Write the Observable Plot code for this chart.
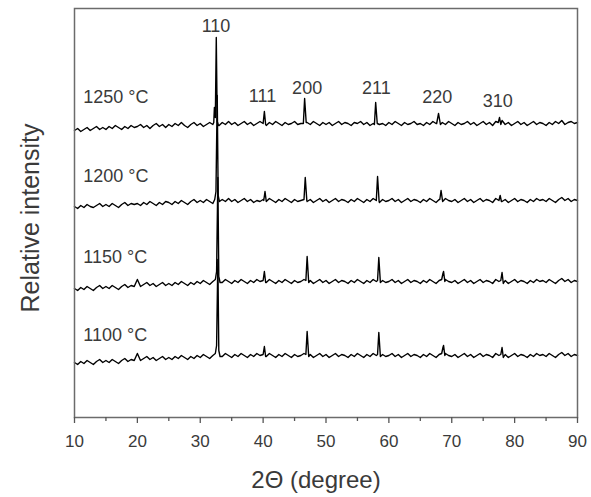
<!DOCTYPE html>
<html>
<head>
<meta charset="utf-8">
<script src="https://cdn.jsdelivr.net/npm/d3@7"></script>
<script src="https://cdn.jsdelivr.net/npm/@observablehq/plot@0.6"></script>
<style>
  html, body { margin: 0; padding: 0; background: #fff; }
</style>
</head>
<body>
<div id="chart"></div>
<script>
// ---- Data (relative intensity, arbitrary units, curves already offset) ----
const temperatures = ["1250 °C", "1200 °C", "1150 °C", "1100 °C"];
const angleStart = 10, angleStep = 0.5; // 2θ sampling grid 10..90

const base1250 = [
  287,289,286,288,290,287,289,291,288,290,
  288,291,289,292,290,288,291,289,292,290,
  291,293,290,292,289,292,294,291,293,290,
  293,291,294,292,295,292,290,293,295,292,
  294,291,293,295,293,294,292,295,293,296,
  293,295,292,294,296,293,295,292,294,296,
  294,292,295,293,296,294,292,295,293,294,
  296,293,294,292,295,293,296,294,292,295,
  293,295,292,294,296,293,295,294,292,295,
  294,296,293,295,292,294,296,293,294,292,
  295,293,296,294,292,295,293,294,296,293,
  294,292,295,293,296,294,292,295,293,296,
  294,292,295,293,294,296,293,295,292,294,
  296,293,295,292,296,294,297,293,295,292,
  294,296,293,295,292,294,296,293,295,294,
  292,295,293,296,294,297,293,295,296,294,
  295
];
const base1200 = [
  211,209,212,210,213,211,210,212,214,211,
  213,211,214,212,210,213,215,212,214,213,
  214,212,215,213,216,214,212,215,213,216,
  215,213,216,214,217,215,213,216,218,215,
  217,215,218,216,214,217,215,218,216,219,
  216,218,215,217,219,216,218,215,217,216,
  218,216,219,217,215,218,216,219,217,215,
  218,216,217,219,216,218,215,217,219,216,
  218,215,217,219,216,218,217,215,218,216,
  219,217,215,218,216,219,217,215,218,216,
  217,219,216,218,215,217,219,216,218,217,
  215,218,216,219,217,215,218,216,219,217,
  216,218,215,217,219,216,218,215,217,219,
  216,218,217,215,219,217,216,218,215,217,
  219,216,218,217,215,218,216,219,217,218,
  216,219,217,215,218,220,217,219,216,218,
  217
];
const base1150 = [
  129,127,130,128,131,129,127,130,132,129,
  131,129,132,130,128,131,133,130,132,131,
  138,131,133,135,132,134,131,133,135,132,
  134,132,135,133,136,134,132,135,133,136,
  134,137,135,133,136,134,137,135,138,136,
  134,137,135,138,136,134,137,135,138,136,
  137,135,138,136,134,137,135,138,136,134,
  137,135,136,138,135,137,134,136,138,135,
  137,134,136,138,135,137,136,134,137,135,
  138,136,134,137,135,138,136,134,137,135,
  136,138,135,137,134,136,138,135,137,136,
  134,137,135,138,136,134,137,135,138,136,
  135,137,134,136,138,135,137,134,136,138,
  135,137,136,134,138,136,135,137,134,136,
  138,135,137,136,134,137,135,138,136,137,
  135,138,136,134,137,139,136,138,135,137,
  136
];
const base1100 = [
  55,53,56,54,57,55,53,56,58,55,
  57,55,58,56,54,57,59,56,58,57,
  64,57,59,61,58,60,57,59,61,58,
  60,58,61,59,62,60,58,61,59,62,
  60,63,61,59,62,60,63,61,64,62,
  60,63,61,64,62,60,63,61,64,62,
  63,61,64,62,60,63,61,64,62,60,
  63,61,62,64,61,63,60,62,64,61,
  63,60,62,64,61,63,62,60,63,61,
  64,62,60,63,61,64,62,60,63,61,
  62,64,61,63,60,62,64,61,63,62,
  60,63,61,64,62,60,63,61,64,62,
  61,63,60,62,64,61,63,60,62,64,
  61,63,62,60,64,62,61,63,60,62,
  64,61,63,62,60,63,61,64,62,63,
  61,64,62,60,63,65,62,64,61,63,
  62
];

// Diffraction peaks: [2θ, intensity] points for each reflection
const peaks1250 = [
  [[32.15,295],[32.25,310],[32.4,300],[32.55,380],[32.7,296],[32.9,292]],
  [[40.0,294],[40.2,306],[40.4,293]],
  [[46.4,294],[46.6,319],[46.85,295]],
  [[57.7,293],[57.9,315],[58.15,294]],
  [[67.6,294],[67.9,304],[68.2,293]],
  [[77.4,295],[77.6,300],[77.8,293]]
];
const peaks1200 = [
  [[32.3,218],[32.5,226],[32.7,322],[32.85,222],[33.05,216]],
  [[40.1,217],[40.3,226],[40.5,216]],
  [[46.5,218],[46.7,240],[46.95,217]],
  [[58.0,217],[58.2,241],[58.45,216]],
  [[68.1,218],[68.3,227],[68.55,216]],
  [[77.5,217],[77.7,222],[77.9,216]]
];
const peaks1150 = [
  [[32.4,138],[32.6,146],[32.8,240],[32.95,141],[33.15,135]],
  [[40.0,137],[40.2,146],[40.4,135]],
  [[46.8,137],[47.0,161],[47.25,135]],
  [[58.2,137],[58.4,160],[58.65,135]],
  [[68.4,138],[68.6,144],[68.7,146],[68.9,136]],
  [[77.8,137],[78.0,145],[78.2,134]]
];
const peaks1100 = [
  [[32.4,64],[32.6,72],[32.8,158],[32.95,67],[33.15,61]],
  [[40.0,63],[40.2,71],[40.4,61]],
  [[46.8,63],[47.0,86],[47.25,61]],
  [[58.2,63],[58.4,85],[58.65,61]],
  [[68.4,64],[68.6,70],[68.7,72],[68.9,62]],
  [[77.8,63],[78.0,70],[78.2,60]]
];

// Annotations
const peakLabels = ["110", "111", "200", "211", "220", "310"];
const peakLabelX = [32.5, 39.9, 47.0, 58.0, 67.7, 77.3];
const peakLabelY = [391, 321, 329, 329, 320, 316];
const tempLabelX = 11.4;
const tempLabelY = [320, 241, 160, 82];

const xTicks = [10, 20, 30, 40, 50, 60, 70, 80, 90];
const xMinorTicks = [15, 25, 35, 45, 55, 65, 75, 85];

// ---- Build tables ----
function buildSeries(name, base, peaks) {
  const pts = [];
  base.forEach((v, i) => {
    const x = angleStart + i * angleStep;
    const inside = peaks.some(p => x >= p[0][0] && x <= p[p.length - 1][0]);
    if (!inside) pts.push({series: name, x, y: v});
  });
  peaks.forEach(p => p.forEach(([x, y]) => pts.push({series: name, x, y})));
  pts.sort((a, b) => a.x - b.x);
  return pts;
}
const data = [
  ...buildSeries(temperatures[0], base1250, peaks1250),
  ...buildSeries(temperatures[1], base1200, peaks1200),
  ...buildSeries(temperatures[2], base1150, peaks1150),
  ...buildSeries(temperatures[3], base1100, peaks1100)
];
const peakTable = peakLabels.map((t, i) => ({t, x: peakLabelX[i], y: peakLabelY[i]}));
const tempTable = temperatures.map((t, i) => ({t, x: tempLabelX, y: tempLabelY[i]}));

const textColor = "#3a3a3a";

const chart = Plot.plot({
  width: 591,
  height: 497,
  marginLeft: 74,
  marginRight: 14,
  marginTop: 8,
  marginBottom: 80,
  style: {fontFamily: "'Liberation Sans', Arial, sans-serif", background: "#fff", color: textColor},
  x: {domain: [10, 90], axis: null},
  y: {domain: [0, 409], axis: null},
  marks: [
    Plot.line(data, {x: "x", y: "y", z: "series", stroke: "#000", strokeWidth: 1.4}),
    Plot.frame({stroke: "#6b6b6b", strokeWidth: 1.5}),
    Plot.axisX({ticks: xTicks, tickSize: 6, tickPadding: 11, fontSize: 17, stroke: "#555", strokeWidth: 1.3, fill: textColor, label: null}),
    Plot.axisX({ticks: xMinorTicks, tickSize: 4, tickFormat: () => "", stroke: "#555", strokeWidth: 1.3, label: null}),
    Plot.text(peakTable, {x: "x", y: "y", text: "t", fontSize: 18, fill: textColor}),
    Plot.text(tempTable, {x: "x", y: "y", text: "t", fontSize: 18, fill: textColor, textAnchor: "start"}),
    Plot.text(["2Θ (degree)"], {frameAnchor: "bottom", dy: 63, dx: -10, fontSize: 24, fill: textColor, textAnchor: "middle", lineAnchor: "middle"}),
    Plot.text(["Relative intensity"], {frameAnchor: "left", dx: -44, dy: 5, rotate: -90, fontSize: 25, fill: textColor, textAnchor: "middle", lineAnchor: "middle"})
  ]
});
document.getElementById("chart").appendChild(chart);
</script>
</body>
</html>
